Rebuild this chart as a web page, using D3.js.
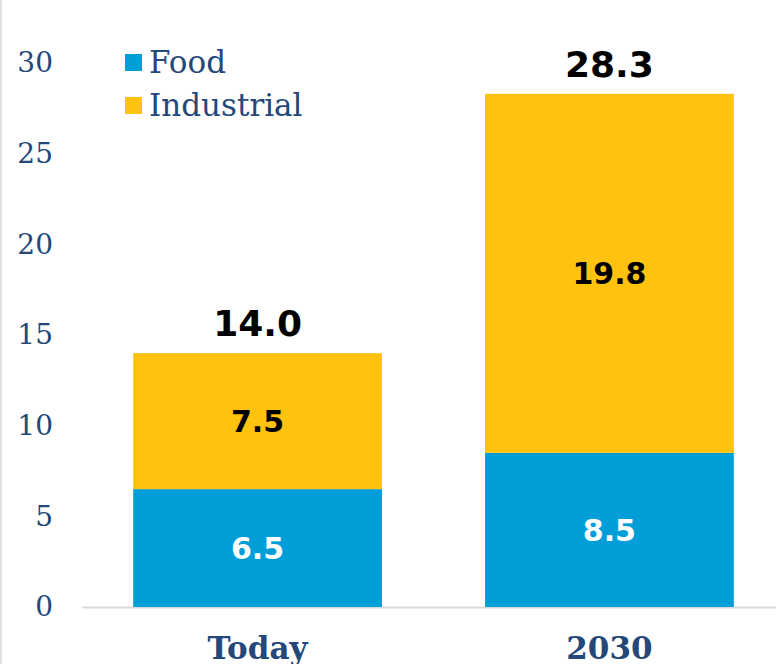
<!DOCTYPE html>
<html>
<head>
<meta charset="utf-8">
<script src="https://cdn.jsdelivr.net/npm/d3@7"></script>
<style>
  html, body { margin: 0; padding: 0; background: #fff; }
  svg { display: block; }
</style>
</head>
<body>
<svg id="chart"></svg>
<script>
// chart data
var categories = ["Today", "2030"];
var seriesNames = ["Food", "Industrial"];
var foodValues = [6.5, 8.5];
var industrialValues = [7.5, 19.8];
var totalValues = [14.0, 28.3];
var yTicks = [0, 5, 10, 15, 20, 25, 30];

var W = 776, H = 664;
var colors = { Food: "#009ed8", Industrial: "#ffc20e" };
var textBlue = "#24487a";

var svg = d3.select("#chart").attr("width", W).attr("height", H);

// faint left border
svg.append("rect").attr("x", 0).attr("y", 0).attr("width", 2).attr("height", H).attr("fill", "#e3e3e3");

var x = d3.scaleBand().domain(categories).range([98, 769]).paddingInner(0.293).paddingOuter(0.1);
var y = d3.scaleLinear().domain([0, 30]).range([607, 63]);

var rows = categories.map(function (c, i) {
  return { cat: c, Food: foodValues[i], Industrial: industrialValues[i], total: totalValues[i] };
});
var stacked = d3.stack().keys(seriesNames)(rows);

// baseline
svg.append("line")
  .attr("x1", 82).attr("x2", W)
  .attr("y1", y(0) + 0.5).attr("y2", y(0) + 0.5)
  .attr("stroke", "#d9d9d9").attr("stroke-width", 2);

// y axis labels
var yAxis = d3.axisLeft(y).tickValues(yTicks).tickSize(0).tickPadding(0);
var yg = svg.append("g").attr("transform", "translate(53,0)").call(yAxis);
yg.select(".domain").remove();
yg.selectAll("text")
  .attr("fill", textBlue)
  .style("font-family", "'DejaVu Serif', serif")
  .style("font-size", "28px");

// bars
var layer = svg.selectAll("g.layer").data(stacked).join("g")
  .attr("class", "layer")
  .attr("fill", function (d) { return colors[d.key]; });

layer.selectAll("rect").data(function (d) { return d; }).join("rect")
  .attr("x", function (d) { return x(d.data.cat); })
  .attr("width", x.bandwidth())
  .attr("y", function (d) { return y(d[1]); })
  .attr("height", function (d) { return y(d[0]) - y(d[1]); });

// segment labels
layer.selectAll("text").data(function (d) { return d.map(function (v) { return { v: v, key: d.key }; }); })
  .join("text")
  .attr("x", function (d) { return x(d.v.data.cat) + x.bandwidth() / 2; })
  .attr("y", function (d) { return (y(d.v[0]) + y(d.v[1])) / 2; })
  .attr("dy", "0.36em")
  .attr("text-anchor", "middle")
  .attr("fill", function (d) { return d.key === "Food" ? "#fff" : "#000"; })
  .style("font-family", "'DejaVu Sans', sans-serif")
  .style("font-weight", "bold")
  .style("font-size", "30px")
  .text(function (d) { return d.v.data[d.key].toFixed(1); });

// totals
svg.selectAll("text.total").data(rows).join("text")
  .attr("class", "total")
  .attr("x", function (d) { return x(d.cat) + x.bandwidth() / 2; })
  .attr("y", function (d) { return y(d.total) - 17; })
  .attr("text-anchor", "middle")
  .attr("fill", "#000")
  .style("font-family", "'DejaVu Sans', sans-serif")
  .style("font-weight", "bold")
  .style("font-size", "36px")
  .text(function (d) { return d.total.toFixed(1); });

// category labels
var xAxis = d3.axisBottom(x).tickSize(0).tickPadding(0);
var xg = svg.append("g").attr("transform", "translate(0,659)").call(xAxis);
xg.select(".domain").remove();
xg.selectAll("text")
  .attr("dy", "0")
  .attr("fill", textBlue)
  .style("font-family", "'DejaVu Serif', serif")
  .style("font-weight", "bold")
  .style("font-size", "31px");

// legend
var legend = svg.selectAll("g.legend").data(seriesNames).join("g")
  .attr("class", "legend")
  .attr("transform", function (d, i) { return "translate(125," + (62 + i * 43) + ")"; });
legend.append("rect")
  .attr("x", 0).attr("y", -8).attr("width", 17).attr("height", 17)
  .attr("fill", function (d) { return colors[d]; });
legend.append("text")
  .attr("x", 24).attr("y", 0).attr("dy", "0.36em")
  .attr("fill", textBlue)
  .style("font-family", "'DejaVu Serif', serif")
  .style("font-size", "31px")
  .text(function (d) { return d; });
</script>
</body>
</html>
